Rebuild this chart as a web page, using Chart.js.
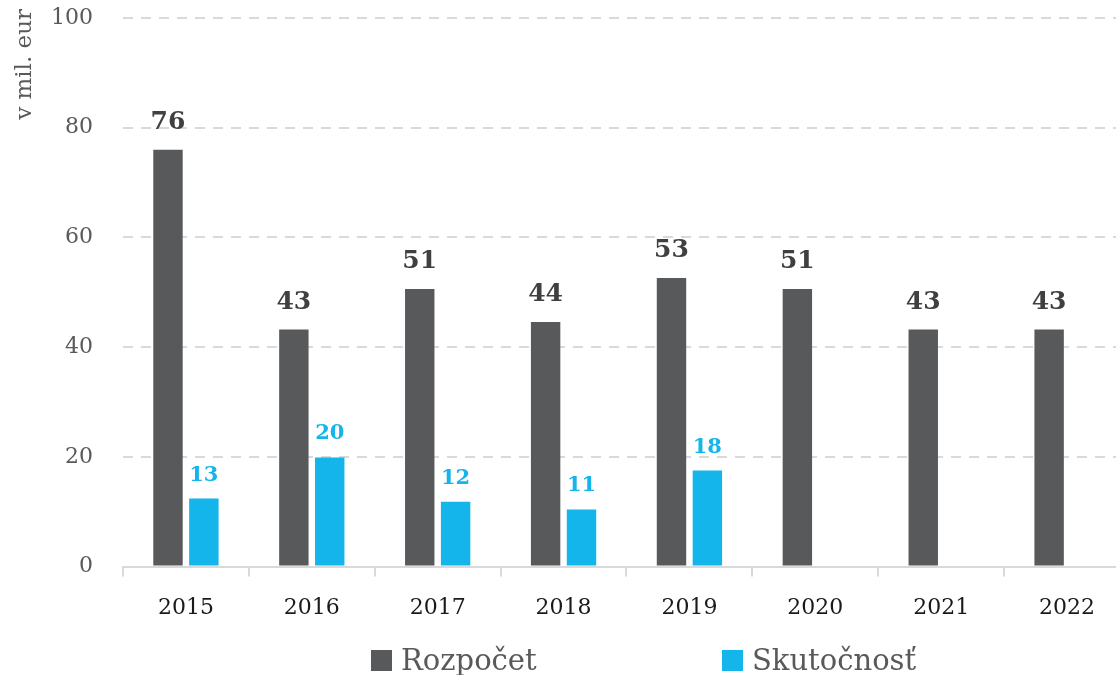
<!DOCTYPE html>
<html>
<head>
<meta charset="utf-8">
<script src="https://cdn.jsdelivr.net/npm/chart.js@4"></script>
<style>
  html, body { margin: 0; padding: 0; background: #fff; overflow: hidden; }
  #wrap { position: absolute; left: 0; top: 0; width: 1130px; height: 675px; }
  .legend { position: absolute; top: 643px; font-family: 'DejaVu Serif', serif; font-size: 29px; color: #595959; white-space: nowrap; }
  .legend span.box { display: inline-block; width: 21px; height: 21px; margin-right: 9px; vertical-align: -1px; }
</style>
</head>
<body>
<div id="wrap"><canvas id="chart"></canvas></div>
<div class="legend" style="left:371px"><span class="box" style="background:#58595B"></span>Rozpočet</div>
<div class="legend" style="left:722px"><span class="box" style="background:#13B5EA"></span>Skutočnosť</div>
<script>
// ---------- Data ----------
const years = ['2015', '2016', '2017', '2018', '2019', '2020', '2021', '2022'];
const rozpocet = [76, 43.2, 50.6, 44.6, 52.6, 50.6, 43.2, 43.2];
const rozpocetLabels = ['76', '43', '51', '44', '53', '51', '43', '43'];
const skutocnost = [12.4, 19.9, 11.8, 10.4, 17.5, null, null, null];
const skutocnostLabels = ['13', '20', '12', '11', '18', '', '', ''];
const yTicks = [0, 20, 40, 60, 80, 100];
const yTitle = 'v mil. eur';

const dark = '#58595B';
const cyan = '#13B5EA';
const font = "'DejaVu Serif', serif";

// ---------- Value labels + axis title ----------
const valueLabels = {
  id: 'valueLabels',
  afterDatasetsDraw(chart) {
    const ctx = chart.ctx;
    chart.data.datasets.forEach((ds, i) => {
      const meta = chart.getDatasetMeta(i);
      meta.data.forEach((bar, j) => {
        const txt = ds.valueText[j];
        if (!txt || ds.data[j] == null) return;
        ctx.save();
        ctx.font = ds.labelFont;
        ctx.fillStyle = ds.labelColor;
        ctx.textAlign = 'center';
        ctx.textBaseline = 'bottom';
        ctx.fillText(txt, bar.x, bar.y - ds.labelGap);
        ctx.restore();
      });
    });
  },
  afterDraw(chart) {
    // y title sits at the top-left, not centred on the axis
    const ctx = chart.ctx;
    ctx.save();
    ctx.translate(25, 9);
    ctx.rotate(-Math.PI / 2);
    ctx.font = "23px 'DejaVu Serif', serif";
    ctx.fillStyle = '#595959';
    ctx.textAlign = 'right';
    ctx.textBaseline = 'middle';
    ctx.fillText(yTitle, 0, 0);
    ctx.restore();
  }
};

new Chart(document.getElementById('chart'), {
  type: 'bar',
  data: {
    labels: years,
    datasets: [
      { label: 'Rozpočet', data: rozpocet, backgroundColor: dark, valueText: rozpocetLabels,
        labelFont: "bold 25px 'DejaVu Serif', serif", labelColor: '#404040', labelGap: 15,
        categoryPercentage: 0.57, barPercentage: 0.82 },
      { label: 'Skutočnosť', data: skutocnost, backgroundColor: cyan, valueText: skutocnostLabels,
        labelFont: "bold 21px 'DejaVu Serif', serif", labelColor: cyan, labelGap: 13,
        categoryPercentage: 0.57, barPercentage: 0.82 }
    ]
  },
  options: {
    responsive: true,
    maintainAspectRatio: false,
    animation: false,
    layout: { padding: { top: 18, bottom: 36, left: 51, right: 0 } },
    plugins: { legend: { display: false }, tooltip: { enabled: false } },
    scales: {
      x: {
        grid: { display: true, drawOnChartArea: false, color: '#d9d9d9', lineWidth: 2, tickLength: 10 },
        border: { display: true, color: '#d9d9d9', width: 2 },
        ticks: { color: '#1a1a1a', font: { family: font, size: 22 }, padding: 18 }
      },
      y: {
        min: 0, max: 100,
        afterBuildTicks: axis => { axis.ticks = yTicks.map(v => ({ value: v })); },
        grid: { color: '#d9d9d9', lineWidth: 2, drawTicks: true, tickLength: 30, tickColor: 'rgba(0,0,0,0)' },
        border: { display: false, dash: [10, 8] },
        ticks: { color: '#595959', font: { family: font, size: 22 }, padding: 0 }
      }
    }
  },
  plugins: [valueLabels]
});
</script>
</body>
</html>
